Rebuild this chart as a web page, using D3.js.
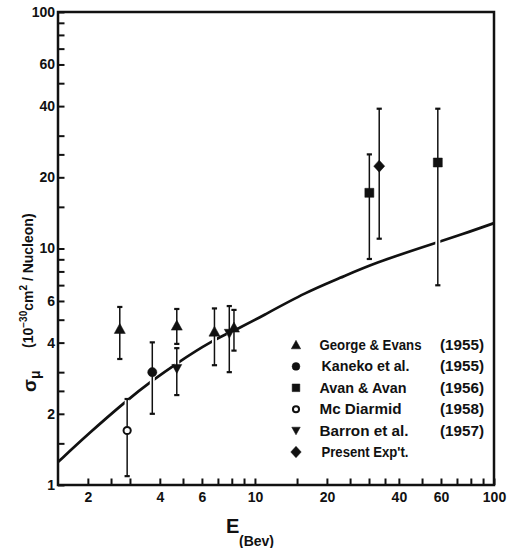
<!DOCTYPE html>
<html>
<head>
<meta charset="utf-8">
<script src="https://cdn.jsdelivr.net/npm/d3@7"></script>
<style>
  html, body { margin: 0; padding: 0; background: #fff; }
  svg { display: block; }
  text { font-family: "Liberation Sans", Arial, sans-serif; font-weight: bold; fill: #111; }
</style>
</head>
<body>
<svg id="chart" width="513" height="548"></svg>
<script>
// ---------------- data ----------------
const xTickValues = [2, 2.5, 3, 4, 5, 6, 7, 8, 9, 10, 15, 20, 25, 30, 35, 40, 50, 60, 70, 80, 90, 100];
const xTickLabels = [2, 4, 6, 10, 20, 40, 60, 100];
const yTickValues = [1, 1.5, 2, 2.5, 3, 4, 5, 6, 7, 8, 9, 10, 15, 20, 25, 30, 40, 50, 60, 70, 80, 90, 100];
const yTickLabels = [1, 2, 4, 6, 10, 20, 40, 60, 100];

const seriesNames   = ["George & Evans", "Kaneko et al.", "Avan & Avan", "Mc Diarmid", "Barron et al.", "Present Exp't."];
const seriesYears   = ["(1955)", "(1955)", "(1956)", "(1958)", "(1957)", ""];
const seriesSymbols = ["triangleUp", "circle", "square", "openCircle", "triangleDown", "diamond"];

// George & Evans (1955)
const georgeE     = [2.72, 4.71, 6.77, 8.17];
const georgeSigma = [4.57, 4.72, 4.45, 4.63];
const georgeLo    = [3.41, 3.95, 3.21, 3.70];
const georgeHi    = [5.66, 5.55, 5.58, 5.50];
// Kaneko et al. (1955)
const kanekoE     = [3.72];
const kanekoSigma = [3.0];
const kanekoLo    = [2.0];
const kanekoHi    = [4.01];
// Avan & Avan (1956)
const avanE       = [30.1, 58.2];
const avanSigma   = [17.2, 23.1];
const avanLo      = [9.03, 6.99];
const avanHi      = [25.0, 39.0];
// Mc Diarmid (1958)
const mcdE        = [2.92];
const mcdSigma    = [1.70];
const mcdLo       = [1.09];
const mcdHi       = [2.31];
// Barron et al. (1957)
const barronE     = [4.71, 7.81];
const barronSigma = [3.11, 4.38];
const barronLo    = [2.40, 3.0];
const barronHi    = [3.79, 5.71];
// Present Exp't.
const presentE     = [33.1];
const presentSigma = [22.3];
const presentLo    = [11.0];
const presentHi    = [39.0];

// theoretical curve
const curveE     = [1.5, 2.0, 2.94, 3.71, 4.71, 6.49, 8.94, 10.5, 16.5, 22.7, 31.3, 57.6, 72.1, 100];
const curveSigma = [1.25, 1.64, 2.30, 2.76, 3.27, 4.04, 4.70, 5.12, 6.57, 7.50, 8.66, 10.6, 11.4, 12.8];

// ---------------- build ----------------
const seriesData = [
  [georgeE, georgeSigma, georgeLo, georgeHi],
  [kanekoE, kanekoSigma, kanekoLo, kanekoHi],
  [avanE, avanSigma, avanLo, avanHi],
  [mcdE, mcdSigma, mcdLo, mcdHi],
  [barronE, barronSigma, barronLo, barronHi],
  [presentE, presentSigma, presentLo, presentHi]
];
const points = [];
seriesData.forEach((s, si) => {
  s[0].forEach((e, i) => points.push({ sym: seriesSymbols[si], e: e, v: s[1][i], lo: s[2][i], hi: s[3][i] }));
});
const curvePts = curveE.map((e, i) => ({ e: e, v: curveSigma[i] }));

const svg = d3.select("#chart");
svg.append("rect").attr("width", 513).attr("height", 548).attr("fill", "#fff");

const L = 58, R = 494, T = 12, B = 485;
const x = d3.scaleLog().domain([1.5, 100]).range([L, R]);
const y = d3.scaleLog().domain([1, 100]).range([B, T]);

// axes
const xAxis = d3.axisBottom(x)
  .tickValues(xTickValues)
  .tickSizeInner(-6.5).tickSizeOuter(0).tickPadding(7)
  .tickFormat(d => xTickLabels.includes(d) ? String(d) : "");
const gx = svg.append("g").attr("transform", `translate(0,${B})`).call(xAxis);
gx.select(".domain").remove();
gx.selectAll(".tick line").attr("stroke", "#111").attr("stroke-width", 2);
gx.selectAll(".tick text").attr("font-size", 14).attr("font-family", null).attr("fill", "#111");

const yAxis = d3.axisLeft(y)
  .tickValues(yTickValues)
  .tickSizeInner(-6.5).tickSizeOuter(0).tickPadding(3)
  .tickFormat(d => yTickLabels.includes(d) ? String(d) : "");
const gy = svg.append("g").attr("transform", `translate(${L},0)`).call(yAxis);
gy.select(".domain").remove();
gy.selectAll(".tick line").attr("stroke", "#111").attr("stroke-width", 2);
gy.selectAll(".tick text").attr("font-size", 14).attr("font-family", null).attr("fill", "#111");

// frame
svg.append("rect")
  .attr("x", L).attr("y", T).attr("width", R - L).attr("height", B - T)
  .attr("fill", "none").attr("stroke", "#111").attr("stroke-width", 2.5);

// curve
const line = d3.line().x(d => x(d.e)).y(d => y(d.v)).curve(d3.curveBasis);
svg.append("path").datum(curvePts)
  .attr("d", line).attr("fill", "none").attr("stroke", "#111").attr("stroke-width", 2.7);

// error bars: white halo then black bar
const bars = svg.append("g");
bars.selectAll("line.halo").data(points).join("line")
  .attr("class", "halo")
  .attr("x1", d => x(d.e)).attr("x2", d => x(d.e))
  .attr("y1", d => y(d.hi)).attr("y2", d => y(d.lo))
  .attr("stroke", "#fff").attr("stroke-width", 5);
bars.selectAll("line.bar").data(points).join("line")
  .attr("class", "bar")
  .attr("x1", d => x(d.e)).attr("x2", d => x(d.e))
  .attr("y1", d => y(d.hi)).attr("y2", d => y(d.lo))
  .attr("stroke", "#111").attr("stroke-width", 1.5);
["hi", "lo"].forEach(k => {
  bars.selectAll("line.cap" + k).data(points).join("line")
    .attr("class", "cap" + k)
    .attr("x1", d => x(d.e) - 2.6).attr("x2", d => x(d.e) + 2.6)
    .attr("y1", d => y(d[k])).attr("y2", d => y(d[k]))
    .attr("stroke", "#111").attr("stroke-width", 2.2);
});

// markers
function symbolPath(sym, s) {
  switch (sym) {
    case "triangleUp":   return `M0,${-5.5*s}L${5.5*s},${4.5*s}L${-5.5*s},${4.5*s}Z`;
    case "triangleDown": return `M${-5*s},${-4*s}L${5*s},${-4*s}L0,${5*s}Z`;
    case "square":       return `M${-4.5*s},${-4.5*s}h${9*s}v${9*s}h${-9*s}Z`;
    case "diamond":      return `M0,${-6*s}L${5.5*s},0L0,${6*s}L${-5.5*s},0Z`;
    case "circle": {
      const r = 4.6 * s;
      return `M${r},0A${r},${r} 0 1,1 ${-r},0A${r},${r} 0 1,1 ${r},0Z`;
    }
    case "openCircle": {
      const r = 3.6 * s;
      return `M${r},0A${r},${r} 0 1,1 ${-r},0A${r},${r} 0 1,1 ${r},0Z`;
    }
  }
}
function styleSym(sel) {
  sel.attr("fill", d => d.sym === "openCircle" ? "#fff" : "#111")
     .attr("stroke", "#111")
     .attr("stroke-width", d => d.sym === "openCircle" ? 2 : 0.5);
}
svg.append("g").selectAll("path").data(points).join("path")
  .attr("transform", d => `translate(${x(d.e)},${y(d.v)})`)
  .attr("d", d => symbolPath(d.sym, 1))
  .call(styleSym);

// legend
const legend = svg.append("g");
const nameWidths = [102, 88, 87, 82, 89, 87];
const legRows = seriesNames.map((n, i) => ({ name: n, year: seriesYears[i], sym: seriesSymbols[i], i: i }));
const rowY = i => 345 + i * 21.4;
legend.selectAll("path").data(legRows).join("path")
  .attr("transform", d => `translate(296,${rowY(d.i)})`)
  .attr("d", d => symbolPath(d.sym, d.sym === "diamond" ? 0.95 : 0.85))
  .call(styleSym);
legend.selectAll("text.name").data(legRows).join("text")
  .attr("class", "name")
  .attr("x", d => (d.i === 1 || d.i === 5) ? 321.5 : 319.5)
  .attr("y", d => rowY(d.i) + 5)
  .attr("font-size", 14)
  .attr("textLength", d => nameWidths[d.i])
  .attr("lengthAdjust", "spacingAndGlyphs")
  .text(d => d.name);
legend.selectAll("text.year").data(legRows.filter(d => d.year)).join("text")
  .attr("class", "year")
  .attr("x", 440).attr("y", d => rowY(d.i) + 5)
  .attr("font-size", 14)
  .attr("textLength", 44)
  .attr("lengthAdjust", "spacingAndGlyphs")
  .text(d => d.year);

// y axis title
const ys = svg.append("text")
  .attr("transform", "translate(36,392) rotate(-90)")
  .attr("text-anchor", "start");
ys.append("tspan").attr("font-size", 19).text("σ");
ys.append("tspan").attr("font-size", 14).attr("dy", 4).text("μ");

const yt = svg.append("text")
  .attr("transform", "translate(33,348) rotate(-90)")
  .attr("text-anchor", "start")
  .attr("font-size", 14);
yt.append("tspan").text("(10");
yt.append("tspan").attr("font-size", 10).attr("dy", -6).text("−30");
yt.append("tspan").attr("dy", 6).text("cm");
yt.append("tspan").attr("font-size", 10).attr("dy", -6).text("2");
yt.append("tspan").attr("dy", 6).text(" / Nucleon)");

// x axis title
svg.append("text").attr("x", 226).attr("y", 532.5).attr("font-size", 20).text("E");
svg.append("text").attr("x", 239).attr("y", 545.5).attr("font-size", 14).text("(Bev)");
</script>
</body>
</html>
